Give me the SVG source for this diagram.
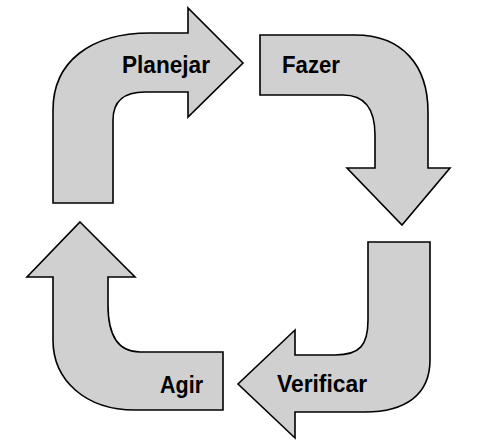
<svg xmlns="http://www.w3.org/2000/svg" width="490" height="445" viewBox="0 0 490 445">
<style>
.arrow{fill:#d0d0d0;stroke:#000;stroke-width:1.6;stroke-linejoin:miter}
.lbl{font-family:"Liberation Sans",Arial,sans-serif;font-weight:bold;font-size:24px;fill:#000}
</style>
<rect width="490" height="445" fill="#fff"/>
<g id="planejar">
<path class="arrow" d="M188 33 L150 33 C90 33 53 62 53 110 L53 203 L113 203 L113 120 C113 101 124 92 145 92 L188 92 L188 117 L243 63 L188 8 Z"/>
<text class="lbl" x="122" y="73" textLength="88" lengthAdjust="spacingAndGlyphs">Planejar</text>
</g>
<g id="fazer">
<path class="arrow" d="M260 35 L355 35 C402 35 428 65 428 112 L428 168 L450 168 L402 225 L347 168 L375 168 L375 135 C375 110 365 95 343 95 L260 95 Z"/>
<text class="lbl" x="282" y="73" textLength="58" lengthAdjust="spacingAndGlyphs">Fazer</text>
</g>
<g id="verificar">
<path class="arrow" d="M368 242 L430 242 L430 360 C430 395 405 412 365 412 L295 412 L295 438 L238 384 L295 330 L295 355 L335 355 C360 355 368 345 368 320 Z"/>
<text class="lbl" x="277" y="392" textLength="90" lengthAdjust="spacingAndGlyphs">Verificar</text>
</g>
<g id="agir">
<path class="arrow" d="M80 222 L135 277 L108 277 L108 305 C108 335 118 352 140 352 L223 352 L223 410 L135 410 C85 410 53 380 53 340 L53 277 L27 277 Z"/>
<text class="lbl" x="160" y="393" textLength="43" lengthAdjust="spacingAndGlyphs">Agir</text>
</g>
<g id="connectors"></g>
</svg>
